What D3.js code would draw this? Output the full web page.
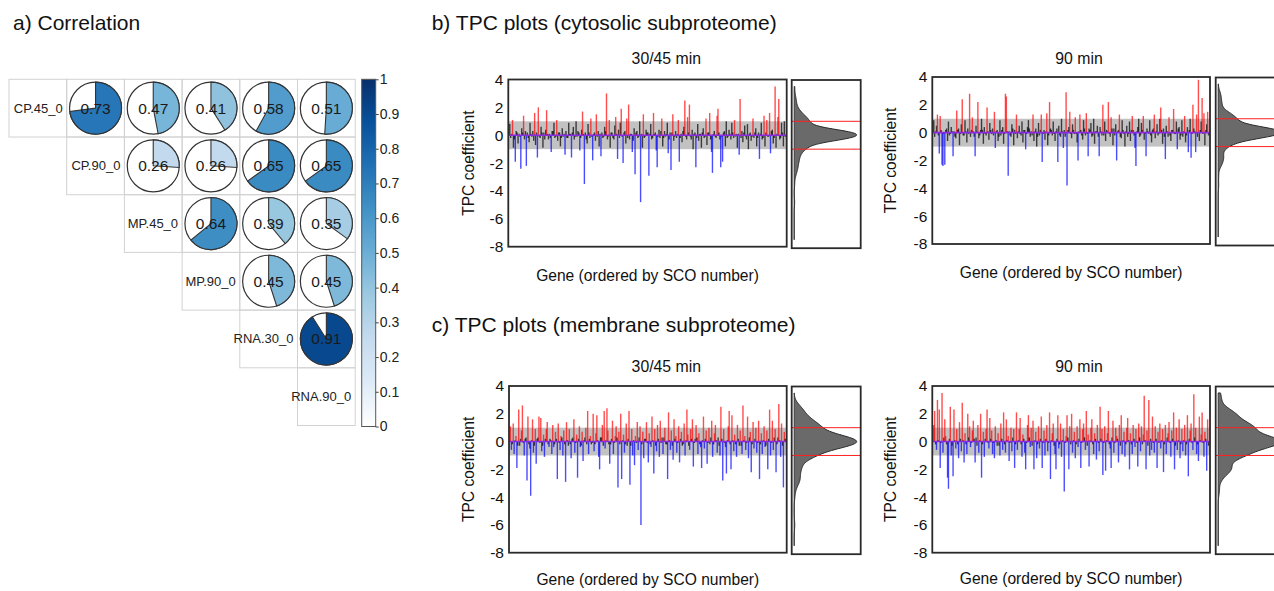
<!DOCTYPE html>
<html>
<head>
<meta charset="utf-8">
<script src="https://cdn.jsdelivr.net/npm/d3@7"></script>
<style>
   body { margin: 0; background: #fff; }
   svg { display: block; font-family: "Liberation Sans", Arial, sans-serif; }
</style>
</head>
<body>
<svg id="fig" width="1274" height="591"></svg>
<script>
const corrLabels = ["CP.45_0", "CP.90_0", "MP.45_0", "MP.90_0", "RNA.30_0", "RNA.90_0"],
// upper triangle, row by row (right of the diagonal)
corrValues = [
   [0.73, 0.47, 0.41, 0.58, 0.51],
   [0.26, 0.26, 0.65, 0.65],
   [0.64, 0.39, 0.35],
   [0.45, 0.45],
   [0.91]
],
colorbarTicks = [0, 0.1, 0.2, 0.3, 0.4, 0.5, 0.6, 0.7, 0.8, 0.9, 1],
tpcTicks = [4, 2, 0, -2, -4, -6, -8];

// TPC coefficients per gene (ordered by SCO number)
const cytoEarly = [
   0.8, -0.2, 0.1, 1.1, -0.9, -0.3, -1.9, 0.3, 0.2, -0.6, 0.1, -0.1, -2.4, 0.5, 0.2, 1.4, -0.3, 0.3, -2.2, 0.2, -0.2, -0.5, 0.9, 0.1, -0.1, 0.3, -0.4, 1.6, -0.7, 0.2,
   -1.6, 2.0, -0.1, -0.2, 0.6, 0.2, -0.9, 0.2, -0.3, 0.4, 1.8, 0.1, -0.3, 0.1, -0.2, -1.2, 0.3, 0.3, 0.9, -0.2, -0.1, 1.1, -0.4, 0.2, 0.2, -0.8, -0.2, 0.5, -0.1, 0.1,
   -1.4, 0.3, -0.2, -0.2, 0.9, 0.1, 0.1, -1.6, 0.2, 0.6, -0.3, -0.1, 1.0, -0.1, 0.3, 0.2, -1.1, -0.2, 0.4, 1.7, 0.1, -3.5, 0.2, -0.3, -0.6, 0.8, 0.2, -0.2, 1.2, -0.1,
   -1.8, 0.1, 0.2, -0.4, 1.5, -0.1, 0.3, -0.8, 0.1, -1.5, 0.2, -0.2, -0.1, 0.6, 0.3, 3.0, -0.3, -0.1, 1.1, -0.9, 0.2, 0.2, -0.2, -0.3, 0.7, 1.3, 0.1, -1.7, 0.4, -0.2,
   0.9, 1.9, -0.1, -2.0, 0.2, 0.3, -0.6, 1.2, -0.2, 2.2, -0.3, 0.1, 0.1, -1.2, -0.4, 0.5, -2.8, 0.2, 0.3, -0.2, -0.1, 1.0, -4.8, 0.1, -0.9, 1.5, -0.2, -0.1, 0.4, 0.2,
   0.2, -2.9, 0.1, 0.8, -0.3, -0.2, 1.6, 0.1, 0.2, -1.1, -2.3, -0.1, 0.4, -0.2, 0.3, 1.2, -0.8, -0.2, 0.3, -0.1, 0.1, 0.9, -1.3, -0.3, 0.2, -2.5, 0.2, 1.5, -0.4, -0.1,
   0.3, -0.2, 0.1, 1.1, -1.9, -0.2, 0.1, -0.5, 0.3, 0.6, 2.5, -0.1, -0.3, 1.3, 0.2, 2.2, -0.1, -0.3, 0.4, -1.0, 0.1, 0.2, -2.3, -0.2, 0.8, -0.4, 0.1, 0.1, -0.9, 0.2,
   0.5, -0.2, -0.1, 1.2, -0.7, 0.2, 0.2, 1.6, -0.3, -1.2, -2.7, 0.1, 0.3, -0.1, -0.2, 1.4, 1.9, 0.2, -0.3, -2.3, -0.1, -1.9, 0.2, 0.3, -0.8, 1.0, -0.2, -0.1, 0.4, 0.1,
   -0.3, 0.9, 0.2, -0.2, 1.1, -0.1, 0.1, -0.9, 0.1, -1.4, 2.6, -0.2, 0.3, -0.5, 0.2, 0.7, -0.1, -0.3, 0.8, -1.0, 0.1, 0.2, -0.4, -0.1, 1.2, -0.2, 0.2, 0.5, -0.8, -0.2,
   0.2, -1.7, 0.1, 0.9, -0.3, -0.2, 1.4, -0.8, 0.2, 1.1, -0.1, -0.1, 1.6, -1.3, 0.3, 0.4, -0.6, -0.2, 3.5, -0.9, 0.1, 1.3, 2.6, -0.3, -0.2, 0.9, 0.2, -0.8, 1.0, -0.1
],
cytoLate = [
   0.9, -0.3, 0.1, 0.5, 1.3, -0.2, -1.5, 1.2, 0.2, -2.3, -2.4, -0.1, -2.3, 0.2, 0.3, -0.6, 0.8, -0.2, -0.1, 0.4, 0.1, -1.7, 0.1, -0.3, -0.4, 1.6, 0.2, 0.3, -0.9, -0.1,
   0.6, 2.4, -0.2, -0.2, 0.9, 0.1, -0.7, 0.3, -0.1, 2.8, -0.3, 0.2, 1.1, 0.1, -0.3, -1.7, 0.5, 0.1, 2.2, -0.4, -0.2, 0.2, 1.0, 0.2, -0.8, 0.4, -0.1, -0.2, 1.8, 0.1,
   -0.5, 0.7, 0.2, -0.1, 0.3, -0.2, 1.5, -1.1, 0.1, 0.2, -0.6, -0.3, 0.9, -0.2, 0.2, 0.4, -0.8, -0.1, 2.8, 2.6, 0.1, -3.1, 0.1, -0.2, -0.3, 0.6, 0.3, -0.9, 0.2, -0.1,
   1.3, -0.4, 0.1, 0.5, -0.1, -0.2, 0.8, -0.7, 0.2, 0.2, -1.2, -0.1, 0.4, 0.9, 0.3, -0.3, 0.1, -0.2, 1.3, -0.6, 0.1, 0.3, -1.0, -0.3, 0.7, -0.2, 0.2, 1.3, -2.1, -0.1,
   0.2, -0.5, 0.1, 1.4, -0.9, -0.2, 2.2, 0.3, 0.2, -0.2, 0.8, -0.1, -0.6, 0.1, 0.3, -2.1, 0.5, -0.2, -0.3, 1.0, 0.1, -1.1, 0.2, -0.3, 2.9, -3.8, 0.2, 0.4, 1.5, -0.1,
   -0.4, 0.6, 0.2, -0.1, 1.1, -0.1, -0.7, -2.0, 0.1, 1.3, 0.2, -0.2, -0.5, 0.9, 0.3, -0.2, 1.4, -0.1, -1.7, 0.3, 0.2, 0.7, -0.3, -0.2, 1.0, -0.8, 0.1, 0.1, 0.5, -0.3,
   -1.7, 0.4, 0.1, -0.2, 2.0, -0.2, 0.8, -0.6, 0.2, 0.1, 2.2, -0.1, -0.3, 1.1, 0.3, -0.9, 0.3, -0.2, 0.6, -2.0, 0.1, 0.2, 1.3, -0.3, -0.4, 0.9, 0.2, -0.1, -1.0, 0.1,
   0.5, -0.3, -0.1, 0.8, -0.6, 0.2, 1.2, 0.2, -0.2, -1.1, -2.4, 0.1, 0.4, 1.0, -0.3, -0.2, 0.7, 0.2, 1.2, -0.5, -0.1, -1.7, 0.3, 0.1, -0.1, 0.9, -0.2, -0.7, 0.2, 0.3,
   1.3, -0.4, 0.1, 0.6, -0.2, -0.1, 1.0, 1.8, 0.2, -0.8, 0.3, -0.3, -1.9, 0.5, 0.1, -0.3, 1.1, -0.2, -0.6, 0.2, 0.2, 1.7, -0.1, -0.1, 0.8, -1.2, 0.3, 0.4, -0.5, -0.2,
   0.9, -0.3, 0.1, 1.2, -0.7, -0.2, 0.4, -1.4, 0.2, 1.0, -1.8, -0.1, 2.0, 0.3, 0.1, -1.4, 1.3, -0.3, 3.8, -0.6, 0.2, 0.8, 2.5, -0.1, 1.4, -0.9, 0.2, 0.6, 1.5, -0.2
],
membEarly = [
   1.1, -0.6, -0.2, 1.3, -0.9, 0.1, 0.4, -1.9, -0.3, 2.3, -0.3, 0.2, 0.8, 2.6, -0.1, -1.0, 0.2, 0.3, -2.8, 1.8, -0.2, -0.5, -3.9, 0.1, 1.6, -0.8, -0.3, 0.9, -1.6, 0.2,
   0.3, 1.8, -0.1, 1.7, -0.7, -0.3, 0.5, -1.1, 0.2, 0.9, 1.4, -0.2, -0.4, 0.2, 0.1, -0.9, 1.2, -0.4, -0.2, 0.7, 0.2, -2.7, 1.3, -0.1, -0.6, 0.4, 0.3, -1.0, 0.8, -0.2,
   -2.9, 1.4, 0.1, -0.3, 0.9, -0.2, -1.2, 0.2, 0.3, 1.6, -0.8, -0.1, 0.5, -2.6, 0.2, 1.1, -0.4, -0.3, 0.7, -1.4, 0.1, 0.3, 1.0, -0.2, 2.2, -0.9, 0.2, 0.4, -0.2, -0.1,
   2.0, -0.7, -0.2, 0.6, 1.9, 0.1, -1.1, -2.0, 0.3, 0.3, 1.2, -0.3, 2.2, -0.5, 0.1, 2.4, 0.8, -0.2, -1.6, -0.2, 0.2, 1.5, -0.9, -0.1, 0.4, 1.1, 0.3, -3.3, 0.7, -0.2,
   2.0, -2.7, 0.1, 0.5, -0.8, -0.2, 1.3, -0.3, 0.2, 2.2, -3.1, -0.3, 0.9, -1.0, 0.1, -1.7, 0.4, -0.1, 1.4, -0.6, 0.3, 1.1, -6.0, -0.2, 0.7, -1.2, 0.2, 0.2, 1.4, -0.1,
   -1.5, 0.6, -0.2, -0.4, 1.8, 0.1, -2.3, 0.9, -0.3, -0.7, 1.2, 0.2, -1.1, 1.5, -0.1, 0.3, -0.9, 0.3, 1.0, -0.2, -0.2, -2.7, 2.1, 0.1, -0.6, 0.8, -0.3, -1.3, 1.6, 0.2,
   0.4, -0.8, -0.1, 1.1, -1.5, 0.2, 0.7, -0.3, -0.2, 1.3, -1.0, 0.1, 2.3, 0.5, -0.3, -0.6, 0.9, 0.2, 1.6, -1.8, -0.1, 0.2, 1.2, 0.3, -0.9, 0.6, -0.2, -0.4, -1.9, 0.1,
   1.8, -0.5, 0.2, 0.8, -1.6, -0.1, 1.0, -0.2, 0.3, 1.5, -1.1, -0.2, 0.6, 1.2, 0.1, -0.8, 0.3, -0.3, -1.0, 2.5, 0.2, -2.8, 0.9, -0.1, -0.4, -2.3, 0.1, 1.1, 2.2, -0.2,
   -2.0, 1.9, 0.1, -0.7, 0.5, -0.2, -1.1, 1.2, 0.2, -0.3, 0.8, -0.3, -0.9, 2.6, 0.1, 0.4, -0.6, -0.1, 1.8, -1.2, 0.3, 0.7, -2.2, -0.2, 1.4, -0.5, 0.2, 1.0, -0.8, -0.1,
   1.5, -2.7, -0.2, 0.6, -0.9, 0.1, 1.1, -0.4, -0.3, 0.8, -2.0, 0.2, 2.3, -1.0, -0.1, 1.5, -0.6, 0.3, 0.9, -2.2, -0.2, 0.3, 2.7, 0.1, -1.1, 1.3, -0.3, -3.3, 0.7, 0.2
],
membLate = [
   1.2, 2.2, -0.2, -0.6, 3.0, 0.1, 2.3, -1.9, -0.1, 3.5, -0.8, 0.3, 1.6, 0.4, -0.2, -2.6, -3.4, 0.2, 2.5, -1.0, -0.3, -2.5, 2.3, 0.1, -0.5, 0.9, -0.2, -1.2, 1.4, 0.2,
   -0.7, 2.8, 0.1, -1.5, 0.6, -0.2, -0.9, 2.0, 0.3, 1.1, -0.4, -0.1, 0.8, 1.5, 0.2, -1.5, 0.3, -0.3, 1.2, -0.8, 0.1, 2.0, -2.6, -0.2, 0.7, -1.1, 0.2, 0.9, 2.3, -0.1,
   -0.5, 1.7, 0.2, 0.8, -0.9, -0.1, -1.2, 1.1, 0.1, -0.3, 0.6, -0.3, -1.0, 1.3, 0.2, -0.6, 2.1, -0.2, -0.8, 1.6, 0.1, 0.4, -1.4, -0.1, 1.0, -0.7, 0.3, 0.9, -1.9, -0.2,
   2.1, -0.6, 0.1, 0.9, 1.7, -0.2, -1.1, 0.5, 0.2, -0.8, -2.0, -0.1, 1.2, 1.9, 0.3, -0.4, 1.0, -0.3, 1.5, -2.0, 0.1, 0.7, -1.2, -0.2, 1.1, -0.5, 0.2, 1.8, -1.9, -0.1,
   0.8, -1.0, 0.2, 1.2, -0.7, -0.1, 2.1, -2.7, 0.1, 0.6, 1.3, -0.3, -0.9, -2.0, 0.2, 1.9, -0.5, -0.2, 1.3, -1.1, 0.1, 0.9, -3.6, -0.1, 0.4, 1.9, 0.3, -2.0, 1.1, -0.2,
   2.0, -0.8, 0.1, 0.7, -1.2, -0.2, 1.1, -0.4, 0.2, 1.6, -1.9, -0.1, 0.9, 1.3, 0.3, -0.6, 2.2, -0.3, 0.5, -1.8, 0.1, 1.0, 1.6, -0.2, -0.9, 0.6, 0.2, -1.3, 1.2, -0.1,
   -0.7, 2.5, 0.2, 0.9, -2.4, -0.1, 1.1, -2.1, 0.1, 0.6, 2.2, -0.2, -0.5, -1.9, 0.3, 1.5, -0.8, -0.1, 1.0, 0.4, 0.2, -1.5, 1.2, -0.3, 1.9, -0.9, 0.1, 0.7, -1.1, -0.2,
   1.0, 1.7, 0.1, -2.0, 0.6, -0.2, -0.9, 1.2, 0.2, -0.4, 0.9, -0.1, -1.8, 1.3, 0.3, -0.7, 1.1, -0.2, 0.5, 3.3, 0.1, -2.0, 0.8, -0.3, 3.0, -1.0, 0.2, -0.6, 1.8, -0.1,
   -0.8, 1.1, 0.2, -1.9, 0.7, -0.1, 1.3, -0.5, 0.1, 0.9, -2.2, -0.2, 1.2, -0.9, 0.3, 0.6, 1.4, -0.1, -1.1, 0.8, 0.2, 2.1, -2.0, -0.3, 1.0, -0.6, 0.1, 1.6, -1.2, -0.2,
   0.9, -0.7, 0.1, 1.2, -1.0, -0.2, 1.9, -2.5, 0.2, 0.8, 1.3, -0.1, -0.6, 3.4, 0.3, 1.0, -0.9, -0.2, -1.4, 1.8, 0.1, 0.5, 2.1, -0.1, -1.1, 0.7, 0.2, -2.1, 1.6, -0.3
];

const svg = d3.select('#fig'),
font = '"Liberation Sans", Arial, sans-serif',
blues = ["#FFFFFF", "#DEEBF7", "#C6DBEF", "#9ECAE1", "#6BAED6", "#4292C6", "#2171B5", "#08519C", "#08306B"],
corrColor = d3.scaleLinear().domain(blues.map((c, i) => i / (blues.length - 1))).range(blues),
gridLeft = 9,
gridTop = 79.3,
cellSize = 57.7,
pieRadius = 26,
pieArc = d3.arc().innerRadius(0).outerRadius(pieRadius);

svg.append('rect').attr('width', 1274).attr('height', 591).attr('fill', '#fff');

// ---------- panel titles ----------
const titles = [
   { text: 'a) Correlation', x: 13, y: 30 },
   { text: 'b) TPC plots (cytosolic subproteome)', x: 431.7, y: 30 },
   { text: 'c) TPC plots (membrane subproteome)', x: 431.7, y: 331.7 }
];
svg.selectAll('text.title')
   .data(titles)
   .join('text')
   .attr('class', 'title')
   .attr('x', d => d.x)
   .attr('y', d => d.y)
   .attr('font-size', '21px')
   .attr('fill', '#111')
   .text(d => d.text);

// ---------- a) correlation matrix ----------
const cells = [];
corrLabels.forEach((lab, r) => {
   for (let c = r; c < corrLabels.length; c++) {
      cells.push({ r, c, label: r === c ? lab : null, value: r === c ? null : corrValues[r][c - r - 1] });
   }
});

const corrG = svg.append('g');
const cellG = corrG.selectAll('g.cell')
   .data(cells)
   .join('g')
   .attr('class', 'cell')
   .attr('transform', d => `translate(${gridLeft + d.c * cellSize},${gridTop + d.r * cellSize})`);

cellG.append('rect')
   .attr('width', cellSize)
   .attr('height', cellSize)
   .attr('fill', 'none')
   .attr('stroke', '#d2d2d2')
   .attr('stroke-width', 1);

cellG.filter(d => d.label)
   .append('text')
   .attr('x', cellSize - 4)
   .attr('y', cellSize / 2)
   .attr('text-anchor', 'end')
   .attr('dominant-baseline', 'central')
   .attr('font-size', '13px')
   .attr('fill', '#222')
   .text(d => d.label);

const pies = cellG.filter(d => d.value !== null)
   .append('g')
   .attr('transform', `translate(${cellSize / 2},${cellSize / 2})`);

pies.append('circle')
   .attr('r', pieRadius)
   .attr('fill', '#fff')
   .attr('stroke', '#333')
   .attr('stroke-width', 1.2);

pies.append('path')
   .attr('d', d => pieArc({ startAngle: 0, endAngle: d.value * 2 * Math.PI }))
   .attr('fill', d => corrColor(d.value))
   .attr('stroke', '#333')
   .attr('stroke-width', 1.1);

pies.append('text')
   .attr('text-anchor', 'middle')
   .attr('dominant-baseline', 'central')
   .attr('font-size', '15.5px')
   .attr('fill', '#1a1a1a')
   .text(d => d3.format('.2f')(d.value));

// colour bar
const cbX = 361.7, cbW = 14,
cbScale = d3.scaleLinear().domain([0, 1]).range([426.5, 79.3]);

const grad = svg.append('defs')
   .append('linearGradient')
   .attr('id', 'cbGrad')
   .attr('x1', 0).attr('x2', 0).attr('y1', 1).attr('y2', 0);
grad.selectAll('stop')
   .data(blues)
   .join('stop')
   .attr('offset', (d, i) => i / (blues.length - 1))
   .attr('stop-color', d => d);

corrG.append('rect')
   .attr('x', cbX)
   .attr('y', cbScale(1))
   .attr('width', cbW)
   .attr('height', cbScale(0) - cbScale(1))
   .attr('fill', 'url(#cbGrad)')
   .attr('stroke', '#555')
   .attr('stroke-width', 1);

const cbAxis = corrG.append('g')
   .attr('transform', `translate(${cbX + cbW},0)`)
   .call(d3.axisRight(cbScale)
      .tickValues(colorbarTicks)
      .tickSize(3)
      .tickPadding(1)
      .tickFormat(d => (d === 0 || d === 1) ? String(d) : d.toFixed(1)));
cbAxis.select('.domain').remove();
cbAxis.selectAll('line').attr('stroke', '#444');
cbAxis.selectAll('text')
   .attr('font-family', font)
   .attr('font-size', '14px')
   .attr('fill', '#222');

// ---------- b) and c) TPC plots ----------
const panels = [
   { values: cytoEarly, cut: 1.0, title: '30/45 min', titleX: 666.3, titleY: 64.3,
     x0: 508.3, x1: 786.7, y0: 79.5, y1: 246.7, dx0: 791.7, ylabX: 468, xlabY: 280.5 },
   { values: cytoLate, cut: 1.0, title: '90 min', titleX: 1079, titleY: 64.3,
     x0: 932.3, x1: 1210, y0: 77, y1: 244, dx0: 1215.7, ylabX: 890, xlabY: 277.5 },
   { values: membEarly, cut: 0.35, title: '30/45 min', titleX: 666.3, titleY: 371.7,
     x0: 509, x1: 786.7, y0: 386, y1: 552.7, dx0: 791.7, ylabX: 468, xlabY: 585 },
   { values: membLate, cut: 0.35, title: '90 min', titleX: 1079, titleY: 371.7,
     x0: 932.3, x1: 1210, y0: 386, y1: 552.7, dx0: 1215.7, ylabX: 890, xlabY: 584 }
];

const densW = 69,
densGrid = d3.range(-7.5, 3.501, 0.05);

// rule-of-thumb gaussian bandwidth
const bandwidth = values => 0.9 * d3.deviation(values) * Math.pow(values.length, -0.2);

panels.forEach(p => {
   const g = svg.append('g'),
   y = d3.scaleLinear().domain([-8, 4]).range([p.y1, p.y0]),
   x = d3.scaleLinear().domain([-0.5, p.values.length - 0.5]).range([p.x0 + 1, p.x1 - 1]);

   // +-1 band
   g.append('rect')
      .attr('x', p.x0)
      .attr('y', y(1))
      .attr('width', p.x1 - p.x0)
      .attr('height', y(-1) - y(1))
      .attr('fill', '#c2c2c2');

   g.selectAll('line.bar')
      .data(p.values)
      .join('line')
      .attr('class', 'bar')
      .attr('x1', (d, i) => x(i))
      .attr('x2', (d, i) => x(i))
      .attr('y1', y(0))
      .attr('y2', d => y(d))
      .attr('stroke', d => d > p.cut ? '#ff0000' : d < -p.cut ? '#0000ff' : '#000')
      .attr('stroke-opacity', 0.7)
      .attr('stroke-width', 1.4);

   g.append('line')
      .attr('x1', p.x0)
      .attr('x2', p.x1)
      .attr('y1', y(0))
      .attr('y2', y(0))
      .attr('stroke', '#8a2be2')
      .attr('stroke-width', 1.6);

   g.append('rect')
      .attr('x', p.x0)
      .attr('y', p.y0)
      .attr('width', p.x1 - p.x0)
      .attr('height', p.y1 - p.y0)
      .attr('fill', 'none')
      .attr('stroke', '#2a2a2a')
      .attr('stroke-width', 1.8);

   const yAxis = g.append('g')
      .attr('transform', `translate(${p.x0},0)`)
      .call(d3.axisLeft(y).tickValues(tpcTicks).tickSize(0).tickPadding(5).tickFormat(d => String(d)));
   yAxis.select('.domain').remove();
   yAxis.selectAll('text')
      .attr('font-family', font)
      .attr('font-size', '15.5px')
      .attr('fill', '#111');

   g.append('text')
      .attr('transform', `translate(${p.ylabX},${(p.y0 + p.y1) / 2}) rotate(-90)`)
      .attr('text-anchor', 'middle')
      .attr('dominant-baseline', 'central')
      .attr('font-size', '15.6px')
      .attr('fill', '#111')
      .text('TPC coefficient');

   g.append('text')
      .attr('x', (p.x0 + p.x1) / 2)
      .attr('y', p.xlabY)
      .attr('text-anchor', 'middle')
      .attr('font-size', '15.6px')
      .attr('fill', '#111')
      .text('Gene (ordered by SCO number)');

   g.append('text')
      .attr('x', p.titleX)
      .attr('y', p.titleY)
      .attr('text-anchor', 'middle')
      .attr('font-size', '15.8px')
      .attr('fill', '#111')
      .text(p.title);

   // side density of the coefficients
   const h = bandwidth(p.values),
   dens = densGrid.map(t => [t, d3.mean(p.values, v => Math.exp(-0.5 * ((t - v) / h) ** 2)) / h]),
   dx = d3.scaleLinear().domain([0, d3.max(dens, d => d[1])]).range([p.dx0 + 2.5, p.dx0 + densW - 4]);

   g.append('path')
      .datum(dens)
      .attr('d', d3.area().curve(d3.curveBasis).y(d => y(d[0])).x0(dx(0)).x1(d => dx(d[1])))
      .attr('fill', '#6a6a6a')
      .attr('stroke', '#2a2a2a')
      .attr('stroke-width', 1);

   g.selectAll('line.cutoff')
      .data([1, -1])
      .join('line')
      .attr('class', 'cutoff')
      .attr('x1', p.dx0)
      .attr('x2', p.dx0 + densW)
      .attr('y1', d => y(d))
      .attr('y2', d => y(d))
      .attr('stroke', '#ff2020')
      .attr('stroke-width', 1);

   g.append('rect')
      .attr('x', p.dx0)
      .attr('y', p.y0 + 0.5)
      .attr('width', densW)
      .attr('height', p.y1 - p.y0 + 1)
      .attr('fill', 'none')
      .attr('stroke', '#2a2a2a')
      .attr('stroke-width', 1.8);
});
</script>
</body>
</html>
